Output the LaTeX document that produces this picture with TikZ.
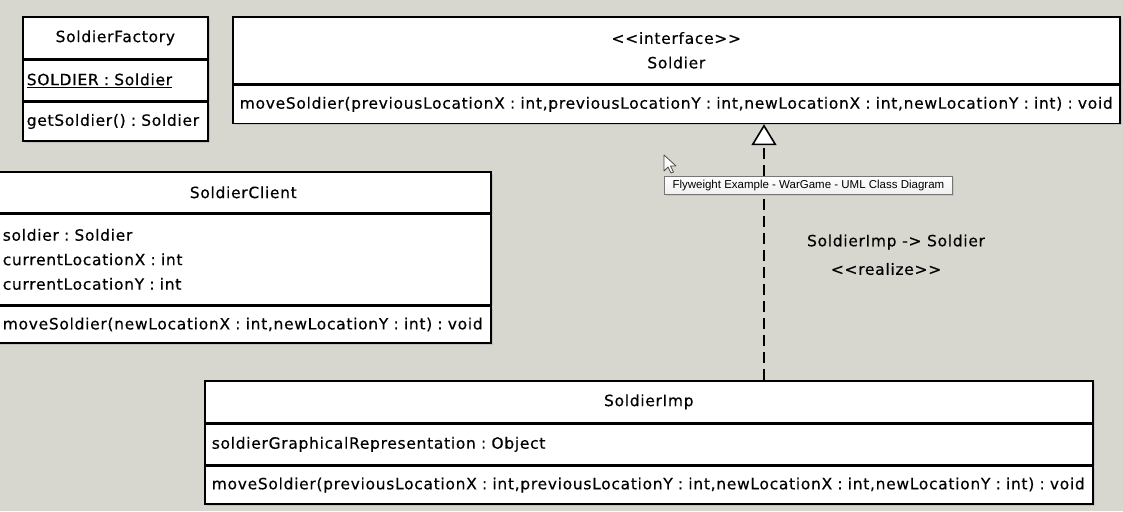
\documentclass[tikz,border=0pt]{standalone}
\usepackage{fontspec}
\usetikzlibrary{arrows.meta,shadows}
\newfontfamily\umlsans[Ligatures=TeXOff, LetterSpace=4.5, FakeBold=0.4]{DejaVu Sans}
\newfontfamily\tipsans{Liberation Sans}
\definecolor{canvascolor}{RGB}{215,215,207}
\definecolor{tipborder}{RGB}{118,118,118}

\tikzset{
  part/.style={draw=black, line width=1.6pt, fill=white, inner xsep=7pt, inner ysep=0pt,
    anchor=north west, font=\umlsans\fontsize{15.5}{24.5}\selectfont,
    drop shadow={shadow xshift=2pt, shadow yshift=-2pt, opacity=0.25}},
  headpart/.style={part, align=center},
  bodypart/.style={part, align=left},
  realize/.style={line width=1.6pt, dash pattern=on 11pt off 6pt,
    -{Triangle[fill=white, length=21pt, width=25pt]}}
}

\begin{document}
\frenchspacing
\begin{tikzpicture}[x=1pt, y=-1pt]
% Background
\fill[canvascolor] (0,0) rectangle (1123,511);
\useasboundingbox (0,0) rectangle (1123,511);

% SoldierFactory
\node[headpart, inner xsep=4pt, text width=177, minimum height=42] (facthead) at (22,16) {SoldierFactory};
\node[bodypart, inner xsep=4pt, text width=177, minimum height=40] (factattr) at (facthead.south west) {\underline{SOLDIER : Soldier}};
\node[bodypart, inner xsep=4pt, text width=177, minimum height=39] (factops) at (factattr.south west) {getSoldier() : Soldier};

% Soldier interface
\node[headpart, text width=873, minimum height=67] (sldhead) at (232,16) {<<interface>>\\Soldier};
\node[bodypart, text width=873, minimum height=38] (sldops) at (sldhead.south west)
  {moveSoldier(previousLocationX : int,previousLocationY : int,newLocationX : int,newLocationY : int) : void};

% SoldierClient
\node[headpart, text width=481, minimum height=41] (clhead) at (-5,171) {SoldierClient};
\node[bodypart, text width=481, minimum height=90] (clattr) at (clhead.south west)
  {soldier : Soldier\\currentLocationX : int\\currentLocationY : int};
\node[bodypart, text width=481, minimum height=37] (clops) at (clattr.south west)
  {moveSoldier(newLocationX : int,newLocationY : int) : void};

% SoldierImp
\node[headpart, text width=874, minimum height=42] (imphead) at (204,380) {SoldierImp};
\node[bodypart, text width=874, minimum height=40] (impattr) at (imphead.south west)
  {soldierGraphicalRepresentation : Object};
\node[bodypart, text width=874, minimum height=38] (impops) at (impattr.south west)
  {moveSoldier(previousLocationX : int,previousLocationY : int,newLocationX : int,newLocationY : int) : void};

% Realization
\coordinate (rline) at (764,0);
\draw[realize] (imphead.north -| rline) -- (sldops.south -| rline);
\node[font=\umlsans\fontsize{15.5}{18}\selectfont] (rname) at (896,242) {SoldierImp -> Soldier};
\node[font=\umlsans\fontsize{15.5}{18}\selectfont] (rstereo) at (886,269) {<<realize>>};

% Tooltip and cursor
\node[draw=tipborder, line width=0.8pt, top color=white, bottom color=gray!12, anchor=north west,
  minimum width=288, minimum height=18, inner sep=0pt, font=\tipsans\fontsize{11.5}{13}\selectfont,
  drop shadow={shadow xshift=1.5pt, shadow yshift=-1.5pt, opacity=0.2}] (tooltip) at (664,176)
  {Flyweight Example - WarGame - UML Class Diagram};
\draw[line width=0.8pt, draw=black!70, fill=white, line join=round]
  (664,155) -- ++(0,16) -- ++(4,-4) -- ++(3,6) -- ++(2.5,-1) -- ++(-3,-6) -- ++(5.5,0) -- cycle;
\end{tikzpicture}
\end{document}
